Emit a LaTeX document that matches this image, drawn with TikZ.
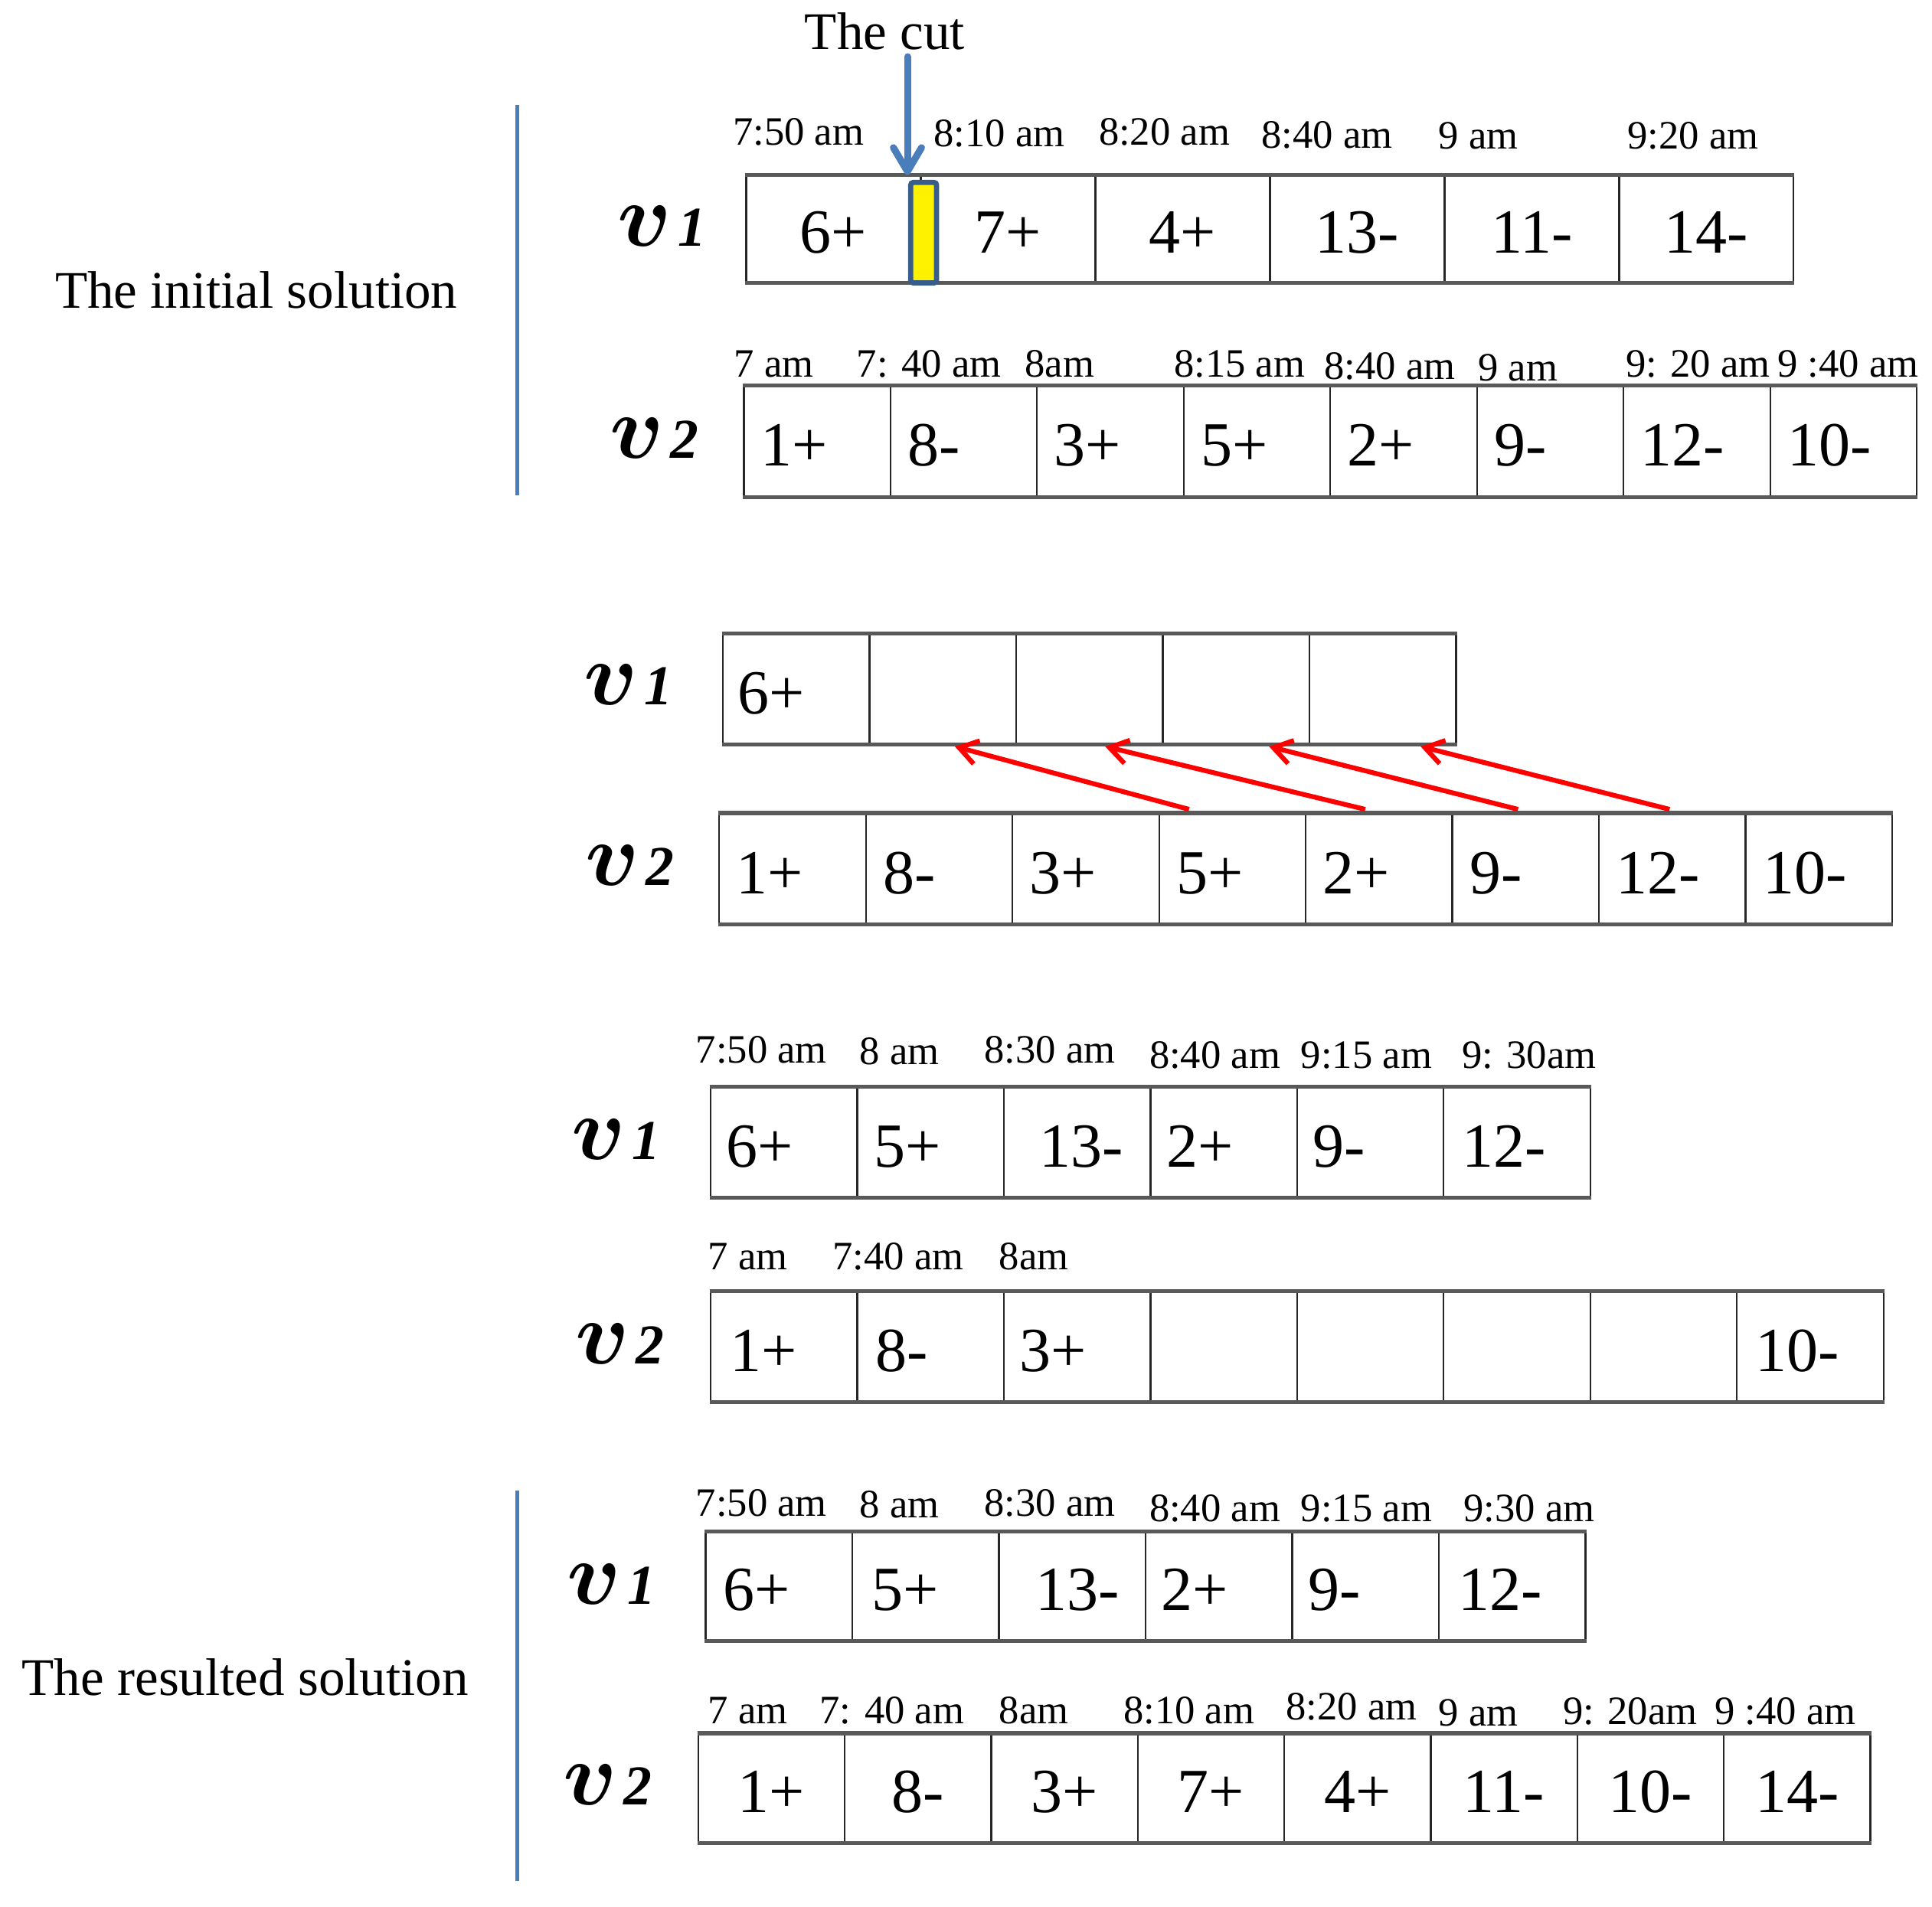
\documentclass[tikz,border=0pt]{standalone}
\usepackage{fontspec}
\setmainfont{Liberation Serif}
\usetikzlibrary{arrows.meta,calc}
\definecolor{cutblue}{RGB}{74,126,187}
\definecolor{cutborder}{RGB}{56,93,138}
\newcommand\vlab[1]{{\fontsize{20}{22}\selectfont\boldmath$v$}\hspace{0.15em}{\fontsize{13}{15}\selectfont\bfseries\itshape #1}}
\tikzset{
  cellbox/.style={draw=black!85, line width=0.4pt, inner sep=0pt, anchor=north west},
  rowedge/.style={draw=black!65, line width=0.9pt},
  celltxt/.style={font=\fontsize{14.5}{17}\selectfont, inner sep=0pt},
  timelbl/.style={font=\fontsize{9.3}{11}\selectfont, inner sep=0pt, anchor=base},
  vlbl/.style={inner sep=0pt, anchor=base},
  sidelbl/.style={font=\fontsize{12.2}{14}\selectfont, inner sep=0pt, anchor=base},
  bluebar/.style={draw=cutblue, line width=0.9pt},
  cutarrow/.style={draw=cutblue, line width=1.6pt, line cap=round, -{Straight Barb[length=5.5pt,width=6.5pt,line width=1.6pt,round]}},
  movearrow/.style={draw=red, line width=1.1pt, -{Straight Barb[length=4.2pt,width=5.5pt,line width=1.1pt]}}
}
\newcommand\cellrow[6]{%
  \foreach \i in {1,...,#6} {
    \node[cellbox, minimum width=#4*0.01cm, minimum height=#5*0.01cm] (#1\i) at ({#2+(\i-1)*#4}, #3) {};
  }
  \draw[rowedge] (#11.north west) -- (#1#6.north east);
  \draw[rowedge] (#11.south west) -- (#1#6.south east);
}
\begin{document}
\begin{tikzpicture}[x=0.01cm, y=-0.01cm]
\fill[white] (0,0) rectangle (1568,1547.5);
\useasboundingbox (0,0) rectangle (1568,1547.5);

% side labels and bars
\node[sidelbl] (initlbl) at (208,250) {The initial solution};
\node[sidelbl] (reslbl) at (199,1376) {The resulted solution};
\draw[bluebar] (420,85) -- (420,402);
\draw[bluebar] (420,1210) -- (420,1527);

% ---------- row A: initial v1
\cellrow{A}{605}{142}{141.67}{86}{6}
\foreach \t [count=\i] in {6+,7+,4+,13-,11-,14-}
  \node[celltxt, anchor=base] (At\i) at ($(A\i.south)+(0,-24)$) {\t};
\foreach \x/\y/\t [count=\k] in {648/118/7:50 am, 811/119/8:10 am, 945/118/8:20 am, 1077/120/8:40 am, 1200/121/9 am, 1374/121/9:20 am}
  \node[timelbl] (Ah\k) at (\x,\y) {\t};
\node[vlbl] (Av) at (537,200) {\vlab{1}};

% cut marker
\node[cellbox, draw=cutborder, fill=yellow, line width=1.2pt, rounded corners=0.6pt, minimum width=0.21cm, minimum height=0.815cm] (cutbar) at (737,146) {};
\node[sidelbl] (cutlbl) at (718,40) {The cut};
\coordinate (cuttop) at (736.5,46);
\draw[cutarrow] (cuttop) -- (cuttop |- A1.north);

% ---------- row B: initial v2
\cellrow{B}{603}{313}{119}{89}{8}
\foreach \t [count=\i] in {1+,8-,3+,5+,2+,9-,12-,10-}
  \node[celltxt, anchor=base west] (Bt\i) at ($(B\i.south west)+(14,-25)$) {\t};
\foreach \x/\y/\t [count=\k] in {628/306/7 am, 754/306/7: 40 am, 860/306/8am, 1006/306/8:15 am, 1128/308/8:40 am, 1232/309/9 am, 1378/306/9: 20 am, 1500/306/9 :40 am}
  \node[timelbl] (Bh\k) at (\x,\y) {\t};
\node[vlbl] (Bv) at (531,372) {\vlab{2}};

% ---------- row C: partial v1
\cellrow{C}{586}{514}{119}{89}{5}
\node[celltxt, anchor=base west] (Ct1) at ($(C1.south west)+(12,-25)$) {6+};
\node[vlbl] (Cv) at (510,572) {\vlab{1}};

% ---------- row D: v2
\cellrow{D}{583}{660}{119}{89}{8}
\foreach \t [count=\i] in {1+,8-,3+,5+,2+,9-,12-,10-}
  \node[celltxt, anchor=base west] (Dt\i) at ($(D\i.south west)+(14,-25)$) {\t};
\node[vlbl] (Dv) at (511,719) {\vlab{2}};

% red moves
\coordinate (m1s) at (965,657); \coordinate (m1e) at (775,606);
\coordinate (m2s) at (1108,657); \coordinate (m2e) at (897,606);
\coordinate (m3s) at (1232,657); \coordinate (m3e) at (1030,606);
\coordinate (m4s) at (1355,657); \coordinate (m4e) at (1153,606);
\foreach \k in {1,...,4} \draw[movearrow] (m\k s) -- (m\k e);

% ---------- row E: v1 after
\cellrow{E}{576}{882}{119}{89}{6}
\foreach \t/\dx [count=\i] in {6+/13,5+/14,13-/29,2+/13,9-/13,12-/15}
  \node[celltxt, anchor=base west] (Et\i) at ($(E\i.south west)+(\dx,-25)$) {\t};
\foreach \x/\y/\t [count=\k] in {618/863/7:50 am, 730/864/8 am, 852/863/8:30 am, 986/867/8:40 am, 1109/867/9:15 am, 1241/867/9: 30am}
  \node[timelbl] (Eh\k) at (\x,\y) {\t};
\node[vlbl] (Ev) at (500,941) {\vlab{1}};

% ---------- row F: v2 after
\cellrow{F}{576}{1048}{119}{89}{8}
\node[celltxt, anchor=base west] (Ft1) at ($(F1.south west)+(16,-25)$) {1+};
\node[celltxt, anchor=base west] (Ft2) at ($(F2.south west)+(15,-25)$) {8-};
\node[celltxt, anchor=base west] (Ft3) at ($(F3.south west)+(13,-25)$) {3+};
\node[celltxt, anchor=base west] (Ft8) at ($(F8.south west)+(15,-25)$) {10-};
\foreach \x/\y/\t [count=\k] in {607/1031/7 am, 729/1031/7:40 am, 839/1031/8am}
  \node[timelbl] (Fh\k) at (\x,\y) {\t};
\node[vlbl] (Fv) at (503,1107) {\vlab{2}};

% ---------- row G: result v1
\cellrow{G}{572}{1243}{119}{88}{6}
\foreach \t/\dx [count=\i] in {6+/14,5+/16,13-/30,2+/13,9-/13,12-/16}
  \node[celltxt, anchor=base west] (Gt\i) at ($(G\i.south west)+(\dx,-25)$) {\t};
\foreach \x/\y/\t [count=\k] in {618/1231/7:50 am, 730/1232/8 am, 852/1231/8:30 am, 986/1235/8:40 am, 1109/1235/9:15 am, 1241/1235/9:30 am}
  \node[timelbl] (Gh\k) at (\x,\y) {\t};
\node[vlbl] (Gv) at (496,1302) {\vlab{1}};

% ---------- row H: result v2
\cellrow{H}{566}{1407}{118.9}{88}{8}
\foreach \t [count=\i] in {1+,8-,3+,7+,4+,11-,10-,14-}
  \node[celltxt, anchor=base] (Ht\i) at ($(H\i.south)+(0,-25)$) {\t};
\foreach \x/\y/\t [count=\k] in {607/1399/7 am, 724/1399/7: 40 am, 839/1399/8am, 965/1399/8:10 am, 1097/1396/8:20 am, 1200/1401/9 am, 1323/1400/9: 20am, 1449/1400/9 :40 am}
  \node[timelbl] (Hh\k) at (\x,\y) {\t};
\node[vlbl] (Hv) at (493,1465) {\vlab{2}};
\end{tikzpicture}
\end{document}
